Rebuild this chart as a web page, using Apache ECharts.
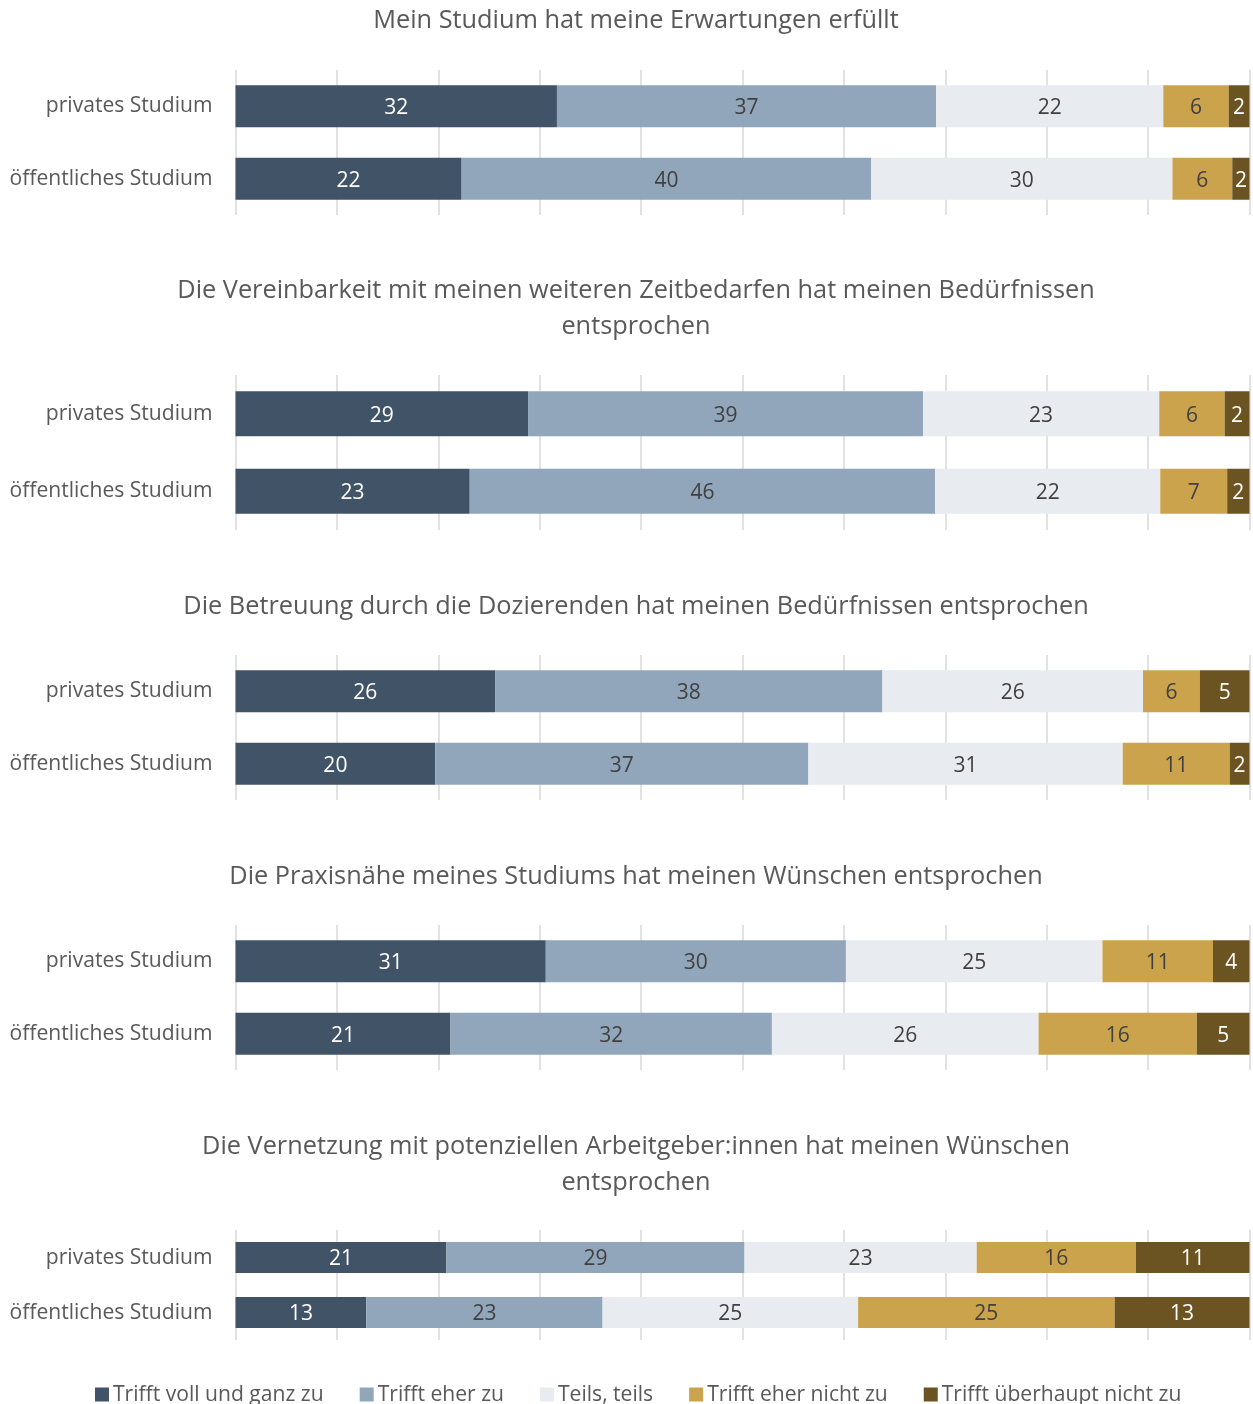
<!DOCTYPE html>
<html>
<head>
<meta charset="utf-8">
<script src="https://cdn.jsdelivr.net/npm/echarts@6/dist/echarts.min.js"></script>
<style>
  html, body { margin: 0; padding: 0; background: #fff; }
  #chart { width: 1253px; height: 1404px; }
</style>
</head>
<body>
<div id="chart"></div>
<script>
// Kategorien (y-Achse) und Antwortstufen (Legende)
var categories = ['privates Studium', 'öffentliches Studium'];
var answers = ['Trifft voll und ganz zu', 'Trifft eher zu', 'Teils, teils', 'Trifft eher nicht zu', 'Trifft überhaupt nicht zu'];
var colors = ['#405367', '#91A6BA', '#E8ECF1', '#CBA34C', '#6B5421'];

// Titel der fünf Teilgrafiken
var titles = [
    'Mein Studium hat meine Erwartungen erfüllt',
    'Die Vereinbarkeit mit meinen weiteren Zeitbedarfen hat meinen Bedürfnissen\nentsprochen',
    'Die Betreuung durch die Dozierenden hat meinen Bedürfnissen entsprochen',
    'Die Praxisnähe meines Studiums hat meinen Wünschen entsprochen',
    'Die Vernetzung mit potenziellen Arbeitgeber:innen hat meinen Wünschen\nentsprochen'
];

// Anteile in % (Reihenfolge wie answers), gerundet wird nur im Label
var erwartungenPrivat = [31.7, 37.4, 22.4, 6.45, 2.05];
var erwartungenOeff   = [22.3, 40.4, 29.7, 5.9, 1.7];
var zeitPrivat        = [28.85, 38.95, 23.3, 6.45, 2.45];
var zeitOeff          = [23.1, 45.9, 22.2, 6.6, 2.2];
var betreuungPrivat   = [25.6, 38.2, 25.7, 5.6, 4.9];
var betreuungOeff     = [19.7, 36.8, 31.0, 10.55, 1.95];
var praxisPrivat      = [30.6, 29.6, 25.3, 10.9, 3.6];
var praxisOeff        = [21.2, 31.7, 26.3, 15.6, 5.2];
var vernetzungPrivat  = [20.8, 29.4, 22.9, 15.7, 11.2];
var vernetzungOeff    = [12.9, 23.3, 25.2, 25.3, 13.3];

var panels = [
    [erwartungenPrivat, erwartungenOeff],
    [zeitPrivat, zeitOeff],
    [betreuungPrivat, betreuungOeff],
    [praxisPrivat, praxisOeff],
    [vernetzungPrivat, vernetzungOeff]
];

// Layout je Teilgrafik: Titel-Oberkante, Grid oben/Höhe, Balkenbreite
var titleTop = [3, 273, 589, 859, 1129];
var gridTop = [70, 375, 655, 925, 1230];
var gridHeight = [145, 155, 145, 145, 110];
var barWidths = [42, 45, 42, 42, 31];

var font = '"Open Sans", Lato, sans-serif';
var myChart = echarts.init(document.getElementById('chart'));

var option = {
    animation: false,
    backgroundColor: '#fff',
    color: colors,
    title: [],
    grid: [],
    xAxis: [],
    yAxis: [],
    series: [],
    legend: {
        data: answers,
        left: 95,
        top: 1384,
        padding: 0,
        icon: 'rect',
        itemWidth: 14,
        itemHeight: 14,
        itemGap: 36,
        textStyle: { fontSize: 21.1, color: '#595959', fontFamily: font, padding: [0, 0, 0, -1] }
    }
};

panels.forEach(function (panel, i) {
    option.title.push({
        text: titles[i],
        left: 636,
        top: titleTop[i],
        textAlign: 'center',
        padding: 0,
        textStyle: { fontSize: 25.3, fontWeight: 'normal', color: '#595959', fontFamily: font, lineHeight: 36 }
    });
    option.grid.push({ left: 235.5, right: 3.5, top: gridTop[i], height: gridHeight[i] });
    option.xAxis.push({
        gridIndex: i, type: 'value', min: 0, max: 100, interval: 10,
        axisLabel: { show: false }, axisLine: { show: false }, axisTick: { show: false },
        splitLine: { show: true, lineStyle: { color: '#D9D9D9', width: 1.5 } }
    });
    option.yAxis.push({
        gridIndex: i, type: 'category', data: categories, inverse: true,
        axisLine: { show: false }, axisTick: { show: false },
        axisLabel: { fontSize: 21.1, color: '#595959', fontFamily: font, margin: 23 }
    });
    answers.forEach(function (name, k) {
        option.series.push({
            name: name,
            type: 'bar',
            stack: 'p' + i,
            xAxisIndex: i,
            yAxisIndex: i,
            barWidth: barWidths[i],
            data: [panel[0][k], panel[1][k]],
            itemStyle: { color: colors[k] },
            label: {
                show: true,
                position: 'inside',
                offset: [0, 2],
                formatter: function (p) { return Math.round(p.value); },
                fontSize: 21,
                fontFamily: font,
                color: (k === 0 || k === 4) ? '#ffffff' : '#404040'
            }
        });
    });
});

myChart.setOption(option);
</script>
</body>
</html>
